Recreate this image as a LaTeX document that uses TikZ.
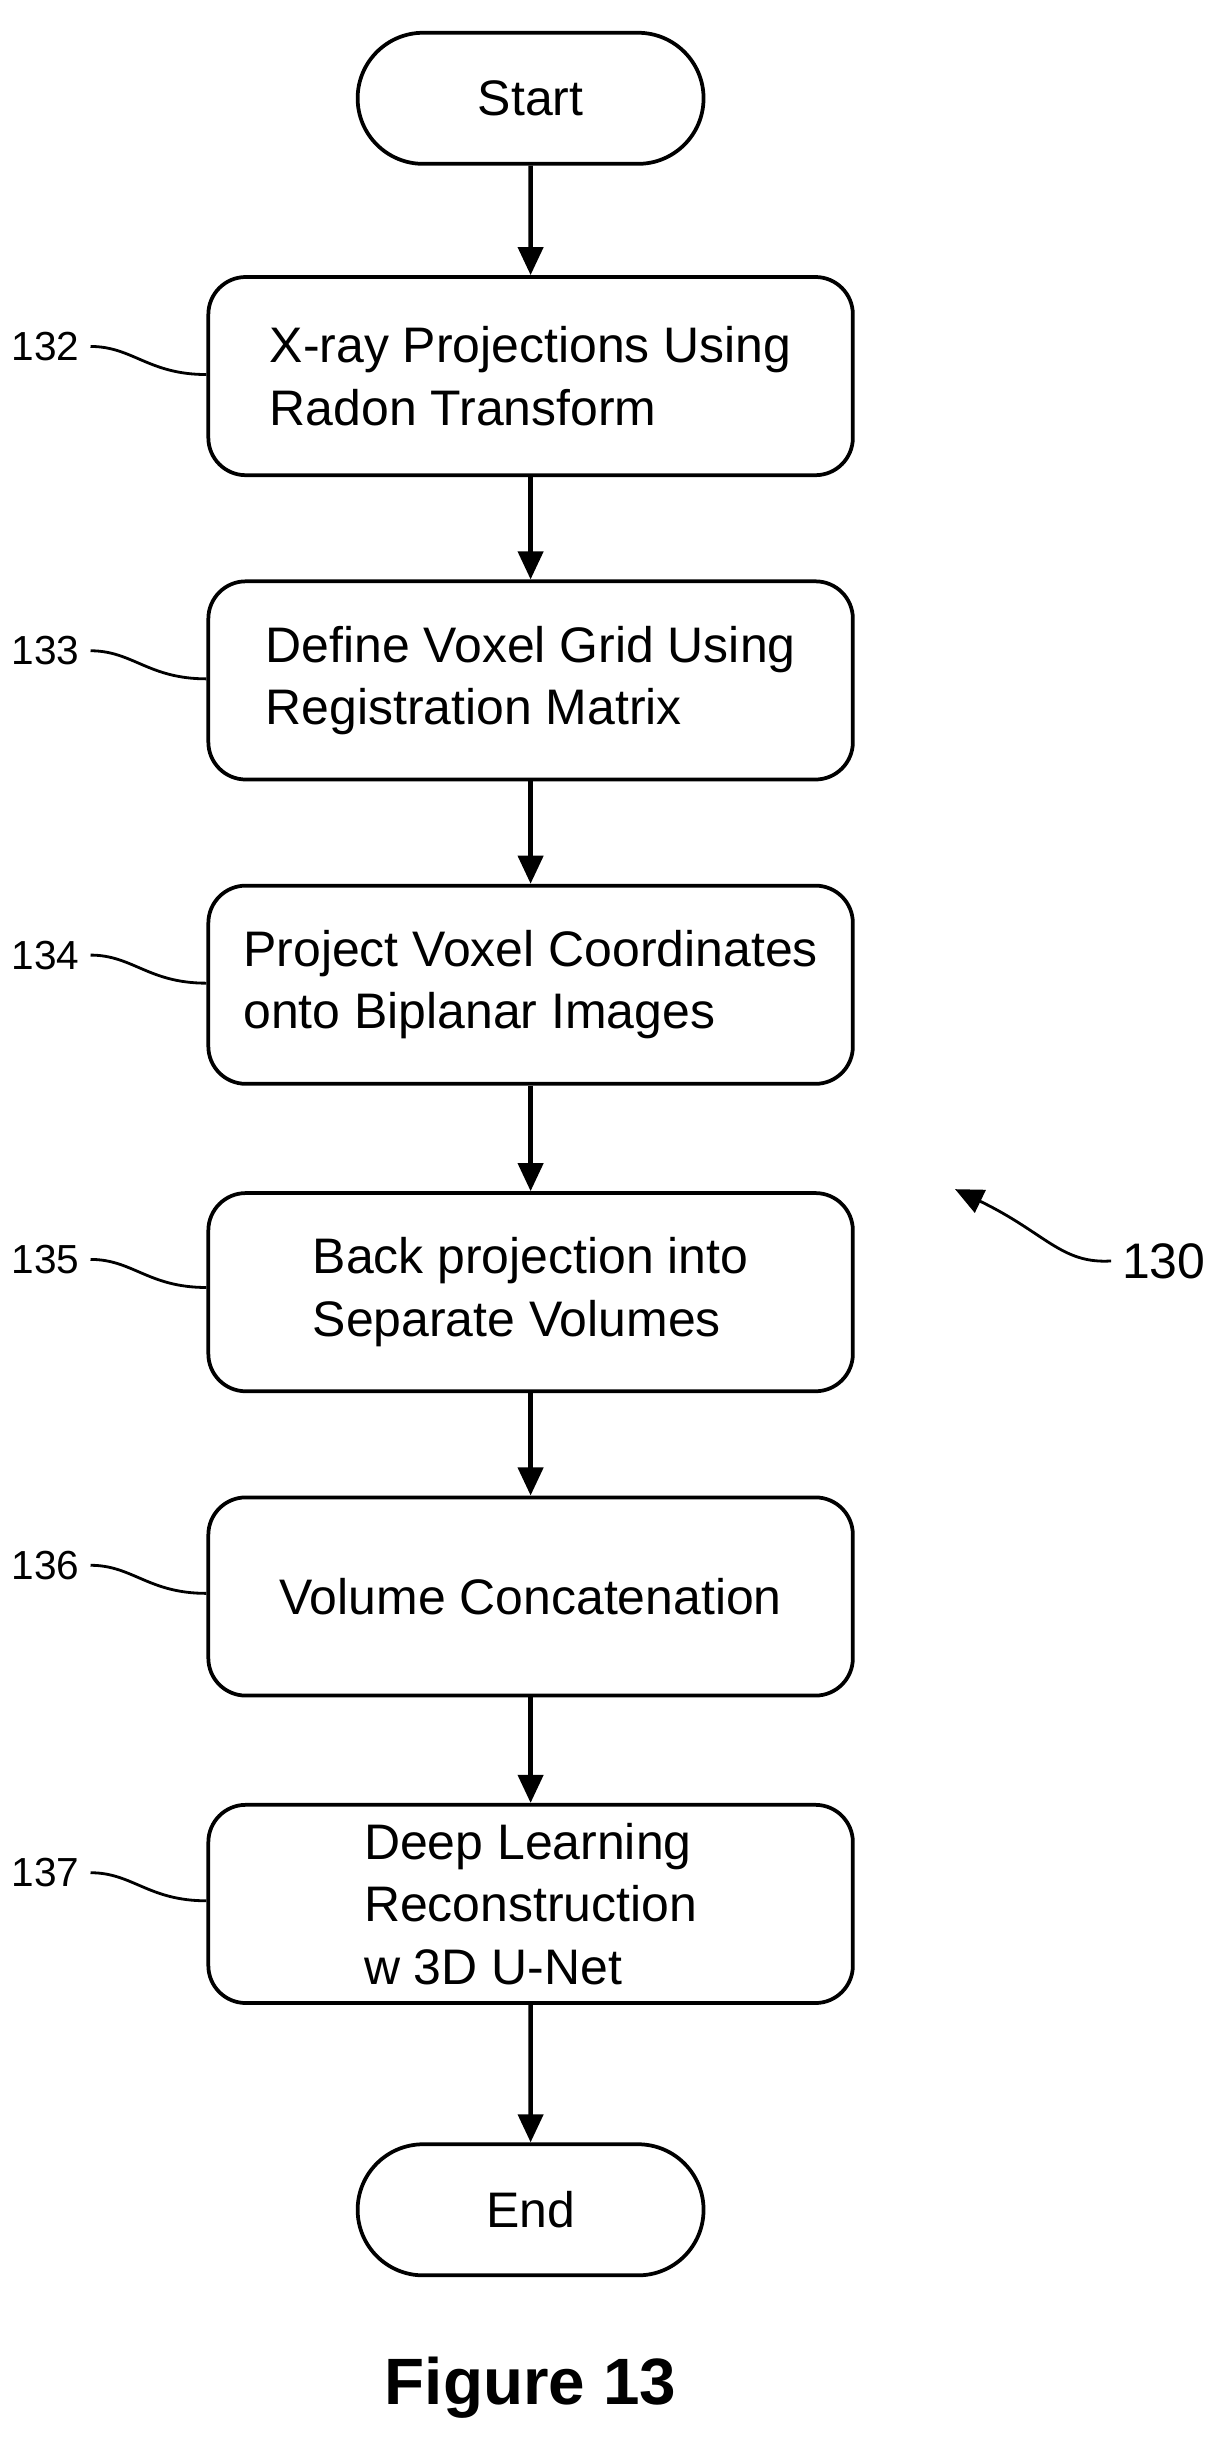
\documentclass[tikz,border=0pt]{standalone}
\usepackage{fontspec}
\setmainfont{Liberation Sans}
\usetikzlibrary{arrows.meta,shapes.misc}
\begin{document}
\begin{tikzpicture}[x=0.5pt,y=-0.5pt,
  box/.style={draw,line width=1.2pt,rounded corners=12pt,minimum width=206.5pt,minimum height=63.5pt,align=left,font=\fontsize{16}{20}\selectfont},
  term/.style={draw,line width=1.2pt,rounded rectangle,minimum width=117.5pt,minimum height=42pt,font=\fontsize{16}{20}\selectfont},
  arr/.style={-{Triangle[length=9pt,width=8pt]},line width=1.4pt},
  lbl/.style={font=\fontsize{13}{15}\selectfont},
  sq/.style={line width=0.9pt}]
\useasboundingbox (0,0) rectangle (784,1568);
\node[term] (s) at (340,63) {Start};
\node[box] (b1) at (340,241) {X-ray Projections Using\\Radon Transform};
\node[box] (b2) at (340,436) {Define Voxel Grid Using\\Registration Matrix};
\node[box] (b3) at (340,631) {Project Voxel Coordinates\\onto Biplanar Images};
\node[box] (b4) at (340,828) {Back projection into\\Separate Volumes};
\node[box] (b5) at (340,1023) {Volume Concatenation};
\node[box] (b6) at (340,1220) {Deep Learning\\Reconstruction\\w 3D U-Net};
\node[term] (e) at (340,1416) {End};
\draw[arr] (s) -- (b1);
\draw[arr] (b1) -- (b2);
\draw[arr] (b2) -- (b3);
\draw[arr] (b3) -- (b4);
\draw[arr] (b4) -- (b5);
\draw[arr] (b5) -- (b6);
\draw[arr] (b6) -- (e);
\foreach \n/\y/\b in {132/222/b1,133/417/b2,134/612/b3,135/807/b4,136/1003/b5,137/1200/b6}{
  \node[lbl,anchor=east] (l\n) at (58,\y) {\n};
  \draw[sq] (l\n.east) .. controls (85,\y) and (95,\y+18) .. (\b.west|-0,\y+18);
}
\node[lbl,font=\fontsize{16}{20}\selectfont,anchor=west] (l130) at (712,808) {130};
\coordinate (t130) at (612,762);
\draw[sq,-{Triangle[length=9pt,width=8pt]}] (l130.west) .. controls (680,810) and (670,790) .. (t130);
\node[font=\bfseries\fontsize{21}{25}\selectfont] (fig) at (340,1530) {Figure 13};
\end{tikzpicture}
\end{document}
